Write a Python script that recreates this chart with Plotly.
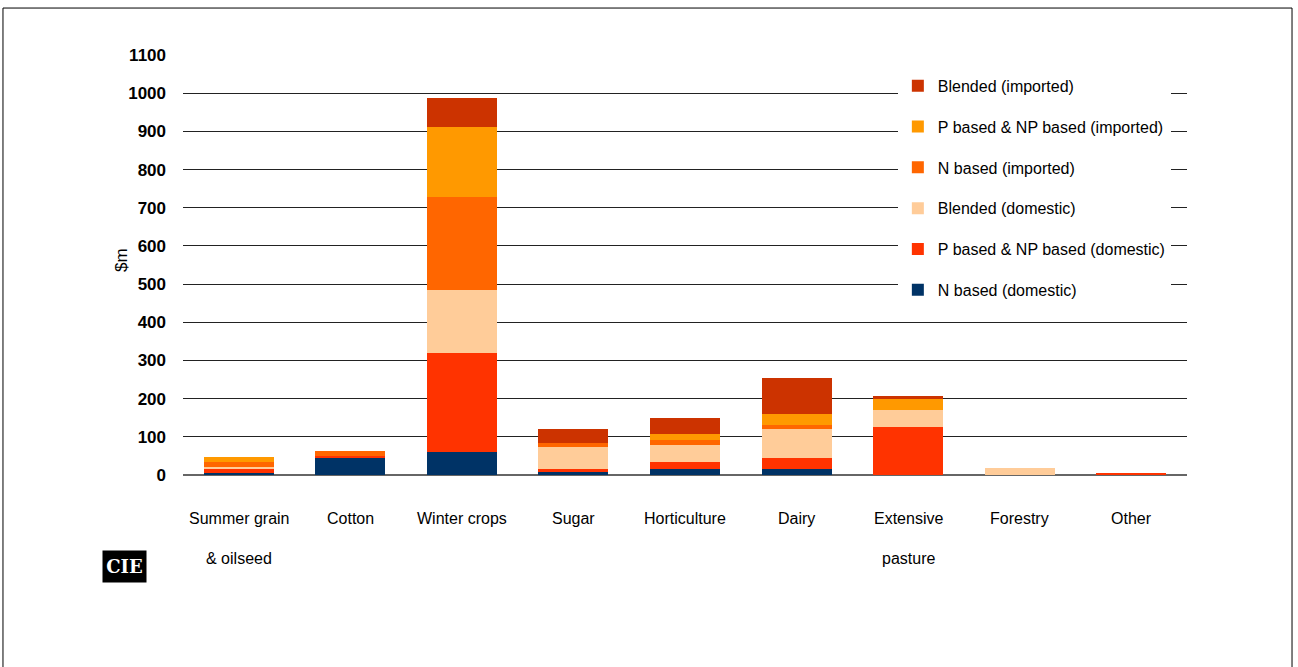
import plotly.graph_objects as go

# Fertiliser value by agricultural sector ($m), stacked by product type and source
categories = ["Summer grain & oilseed", "Cotton", "Winter crops", "Sugar", "Horticulture",
              "Dairy", "Extensive pasture", "Forestry", "Other"]
label_line1 = ["Summer grain", "Cotton", "Winter crops", "Sugar", "Horticulture",
               "Dairy", "Extensive", "Forestry", "Other"]
label_line2 = ["& oilseed", "", "", "", "", "", "pasture", "", ""]

n_based_domestic = [6, 45, 61, 10, 16, 16, 0, 0, 0]
p_np_based_domestic = [10, 5, 259, 5, 18, 29, 126, 0, 5]
blended_domestic = [5, 0, 165, 58, 44, 76, 44, 18, 0]
n_based_imported = [13, 13, 243, 10, 13, 10, 0, 0, 0]
p_np_based_imported = [13, 0, 183, 0, 16, 29, 29, 0, 0]
blended_imported = [0, 0, 76, 37, 42, 94, 8, 0, 0]

y_ticks = list(range(0, 1101, 100))

series = [
    ("N based (domestic)", n_based_domestic, "#003366"),
    ("P based & NP based (domestic)", p_np_based_domestic, "#FF3300"),
    ("Blended (domestic)", blended_domestic, "#FFCC99"),
    ("N based (imported)", n_based_imported, "#FF6600"),
    ("P based & NP based (imported)", p_np_based_imported, "#FF9900"),
    ("Blended (imported)", blended_imported, "#CC3300"),
]

FONT = "Liberation Sans, Arial, sans-serif"

fig = go.Figure()
n = len(series)
for i, (name, vals, color) in enumerate(series):
    fig.add_trace(go.Bar(
        x=categories, y=vals, name=name, legendgroup=f"g{i}", legendrank=n - i,
        marker=dict(color=color, line=dict(width=0)),
    ))

# Category labels beneath the axis, with wide line spacing for two-line names
annotations = []
for cat, l1, l2 in zip(categories, label_line1, label_line2):
    annotations.append(dict(x=cat, xref="x", y=-0.103, yref="paper", text=l1,
                            showarrow=False, xanchor="center", yanchor="middle",
                            font=dict(family=FONT, size=16, color="#000")))
    if l2:
        annotations.append(dict(x=cat, xref="x", y=-0.198, yref="paper", text=l2,
                                showarrow=False, xanchor="center", yanchor="middle",
                                font=dict(family=FONT, size=16, color="#000")))

# Axis title
annotations.append(dict(x=-0.0608, xref="paper", y=0.512, yref="paper", text="$m",
                        textangle=-90, showarrow=False, xanchor="center", yanchor="middle",
                        font=dict(family=FONT, size=17, color="#000")))

# CIE logo block
annotations.append(dict(x=-0.0583, xref="paper", y=-0.219, yref="paper", text="<b>CIE</b>",
                        showarrow=False, bgcolor="#000", width=43, height=31, borderpad=0,
                        xanchor="center", yanchor="middle",
                        font=dict(family="DejaVu Serif, serif", size=18, color="#fff")))

fig.update_layout(
    width=1298, height=667,
    barmode="stack", bargap=0.373,
    plot_bgcolor="#fff", paper_bgcolor="#fff",
    margin=dict(l=183, r=111, t=55, b=191.5),
    xaxis=dict(showticklabels=False, showgrid=False, ticks="", showline=False,
               fixedrange=True),
    yaxis=dict(range=[0, 1100], tickvals=y_ticks, showgrid=True, gridcolor="#222222",
               gridwidth=1, zeroline=True, zerolinecolor="#666666", zerolinewidth=2,
               ticks="", ticklabelstandoff=16,
               tickfont=dict(family=FONT, size=17, color="#000", weight="bold")),
    showlegend=True,
    legend=dict(x=0.712, xanchor="left", y=0.967, yanchor="top",
                traceorder="grouped", tracegroupgap=17,
                bgcolor="#fff", borderwidth=0,
                font=dict(family=FONT, size=16, color="#000")),
    annotations=annotations,
    shapes=[dict(type="rect", xref="paper", yref="paper",
                 x0=-0.1793, x1=1.1046, y0=-0.47, y1=1.1118,
                 line=dict(color="#000", width=1), fillcolor="rgba(0,0,0,0)", layer="below")],
)

fig.write_html("out.html")
